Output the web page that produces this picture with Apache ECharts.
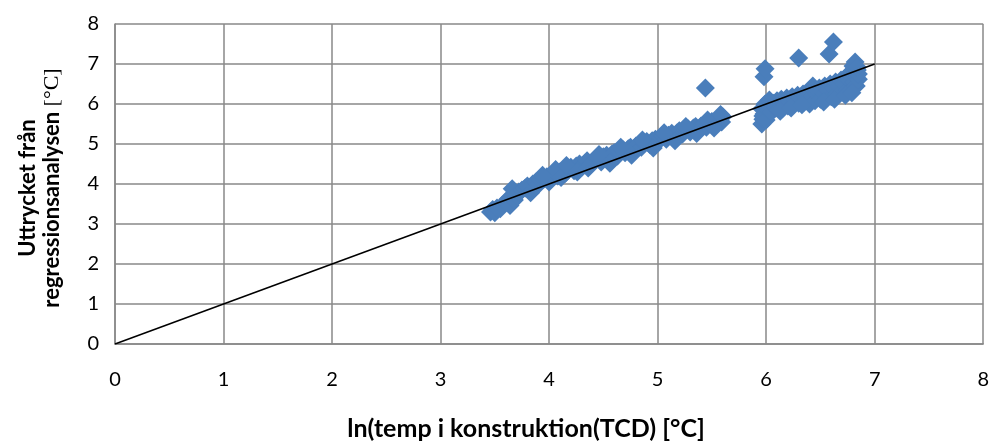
<!DOCTYPE html>
<html>
<head>
<meta charset="utf-8">
<script src="https://cdn.jsdelivr.net/npm/echarts@6/dist/echarts.min.js"></script>
<style>
  html, body { margin: 0; padding: 0; background: #ffffff; }
  #chart { width: 992px; height: 442px; }
</style>
</head>
<body>
<div id="chart"></div>
<script>
// Measured ln(TCD) values and the regression expression evaluated at each one
const xVals = [
  3.46, 3.48, 3.50, 3.52, 3.55, 3.57, 3.60, 3.62, 3.64, 3.66, 3.68, 3.70, 3.72, 3.75, 3.78,
  3.80, 3.83, 3.85, 3.88, 3.90, 3.92, 3.95, 3.98, 4.00, 4.02, 4.05, 4.08, 4.10, 4.13, 4.15,
  4.18, 4.20, 4.23, 4.25, 4.28, 4.30, 4.33, 4.35, 4.38, 4.40, 4.43, 4.45, 4.48, 4.50, 4.53,
  4.55, 4.58, 4.60, 4.63, 4.65, 4.68, 4.70, 4.73, 4.75, 4.78, 4.80, 4.83, 4.85, 4.88, 4.90,
  4.93, 4.95, 4.98, 5.00, 5.03, 5.05, 5.08, 5.10, 5.13, 5.15, 5.18, 5.20, 5.23, 5.25, 5.28,
  5.30, 5.33, 5.35, 5.38, 5.40, 5.43, 5.45, 5.48, 5.50, 5.53, 5.55, 5.57, 5.59, 5.60, 5.44,
  3.94, 4.06, 4.11, 4.16, 4.26, 4.36, 4.46, 4.56, 4.66, 4.76, 4.86, 4.96, 5.06, 5.16, 5.26,
  5.36, 5.46, 5.52, 5.58,
  5.96, 5.97, 5.98, 5.96, 5.99, 5.97, 6.00, 5.98, 5.99, 6.02, 6.04, 6.05, 6.07, 6.09, 6.10,
  6.12, 6.14, 6.15, 6.17, 6.19, 6.20, 6.22, 6.24, 6.25, 6.27, 6.29, 6.30, 6.30, 6.32, 6.34,
  6.35, 6.37, 6.39, 6.40, 6.42, 6.44, 6.45, 6.47, 6.49, 6.50, 6.52, 6.54, 6.55, 6.57, 6.58,
  6.59, 6.60, 6.62, 6.62, 6.64, 6.65, 6.67, 6.69, 6.70, 6.72, 6.74, 6.75, 6.77, 6.78, 6.80,
  6.80, 6.81, 6.82, 6.83, 6.84, 6.83, 6.85,
  6.03, 6.13, 6.23, 6.33, 6.43, 6.53, 6.63, 6.73, 6.79, 6.85, 6.84
];
const yVals = [
  3.30, 3.36, 3.28, 3.40, 3.38, 3.47, 3.55, 3.62, 3.46, 3.88, 3.60, 3.72, 3.80, 3.85, 3.90,
  3.95, 3.78, 4.00, 4.05, 3.98, 4.10, 4.12, 4.18, 4.05, 4.22, 4.25, 4.20, 4.30, 4.35, 4.27,
  4.38, 4.42, 4.33, 4.45, 4.50, 4.42, 4.52, 4.58, 4.48, 4.55, 4.62, 4.66, 4.55, 4.68, 4.72,
  4.63, 4.75, 4.78, 4.70, 4.82, 4.86, 4.78, 4.88, 4.92, 4.85, 4.95, 5.00, 4.92, 5.02, 5.06,
  4.98, 5.08, 5.12, 5.05, 5.15, 5.20, 5.12, 5.22, 5.27, 5.18, 5.28, 5.33, 5.25, 5.35, 5.38,
  5.30, 5.40, 5.44, 5.36, 5.45, 5.50, 5.42, 5.52, 5.56, 5.48, 5.60, 5.65, 5.55, 5.68, 6.40,
  4.22, 4.36, 4.16, 4.46, 4.30, 4.40, 4.74, 4.52, 4.92, 4.72, 5.10, 4.90, 5.28, 5.08, 5.44,
  5.26, 5.60, 5.40, 5.74,
  5.50, 5.62, 5.75, 5.88, 6.00, 5.70, 5.60, 6.68, 6.88, 5.85, 5.95, 5.80, 6.02, 5.90, 6.08,
  5.95, 6.12, 5.88, 6.00, 6.15, 5.95, 6.05, 6.18, 5.98, 6.10, 6.22, 6.02, 7.15, 6.12, 6.25,
  6.05, 6.15, 6.30, 6.00, 6.20, 6.35, 6.08, 6.25, 6.40, 6.12, 6.30, 6.45, 6.15, 6.35, 7.25,
  6.50, 6.18, 7.55, 6.40, 6.55, 6.25, 6.45, 6.60, 6.30, 6.50, 6.68, 6.35, 6.58, 6.80, 6.40,
  6.95, 6.55, 7.05, 6.70, 6.85, 6.45, 6.62,
  6.10, 5.82, 5.90, 5.98, 6.45, 6.05, 6.12, 6.22, 6.28, 6.75, 6.92
];
// Reference line y = x over the plotted range
const lineX = [0, 7];
const lineY = [0, 7];
const axisTicks = [0, 1, 2, 3, 4, 5, 6, 7, 8];

const scatterData = xVals.map((x, i) => [x, yVals[i]]);
const lineData = lineX.map((x, i) => [x, lineY[i]]);

const gridGrey = '#888888';
const font = 'Lato, "Open Sans", "Liberation Sans", sans-serif';

const chart = echarts.init(document.getElementById('chart'), null, { renderer: 'canvas' });
chart.setOption({
  animation: false,
  backgroundColor: '#ffffff',
  grid: { left: 115, right: 8, top: 24, bottom: 98, containLabel: false },
  xAxis: {
    type: 'value',
    min: axisTicks[0],
    max: axisTicks[axisTicks.length - 1],
    interval: 1,
    axisLine: { show: true, lineStyle: { color: gridGrey, width: 1.5 } },
    axisTick: { show: false },
    axisLabel: { color: '#000', fontSize: 20, fontFamily: font, margin: 26 },
    splitLine: { show: true, lineStyle: { color: gridGrey, width: 1.5 } }
  },
  yAxis: {
    type: 'value',
    min: axisTicks[0],
    max: axisTicks[axisTicks.length - 1],
    interval: 1,
    axisLine: { show: true, lineStyle: { color: gridGrey, width: 1.5 } },
    axisTick: { show: false },
    axisLabel: { color: '#000', fontSize: 20, fontFamily: font, margin: 16 },
    splitLine: { show: true, lineStyle: { color: gridGrey, width: 1.5 } }
  },
  graphic: [
    {
      type: 'text',
      x: 526,
      y: 429,
      style: {
        text: 'ln(temp i konstruktion(TCD) [°C]',
        font: 'bold 25px ' + font,
        fill: '#000',
        align: 'center',
        verticalAlign: 'middle'
      }
    },
    {
      type: 'text',
      x: 40,
      y: 188,
      rotation: Math.PI / 2,
      style: {
        text: '{b|Uttrycket från}\n{b|regressionsanalysen }{s|[°C]}',
        rich: {
          b: { font: 'bold 22px ' + font, fill: '#000', lineHeight: 24 },
          s: { font: '22px "Liberation Serif", "DejaVu Serif", serif', fill: '#000', lineHeight: 24 }
        },
        align: 'center',
        verticalAlign: 'middle'
      }
    }
  ],
  series: [
    {
      type: 'scatter',
      data: scatterData,
      symbol: 'diamond',
      symbolSize: 19,
      itemStyle: { color: '#4A7EBB', opacity: 1 },
      z: 2
    },
    {
      type: 'line',
      data: lineData,
      showSymbol: false,
      lineStyle: { color: '#000', width: 1.6 },
      z: 3
    }
  ]
});
</script>
</body>
</html>
